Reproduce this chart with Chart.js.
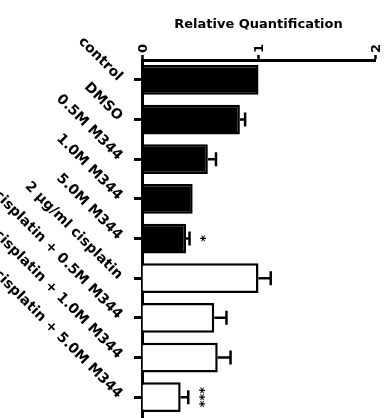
<!DOCTYPE html>
<html>
<head>
<meta charset="utf-8">
<script src="https://cdn.jsdelivr.net/npm/chart.js@4"></script>
<style>
  body { margin: 0; background: #fff; }
</style>
</head>
<body>
<canvas id="myChart" width="387" height="418"></canvas>
<script>
// Data
const labels = ['control', 'DMSO', '0.5M M344', '1.0M M344', '5.0M M344',
    '2 μg/ml cisplatin', 'cisplatin + 0.5M M344', 'cisplatin + 1.0M M344', 'cisplatin + 5.0M M344'];
const values = [1.0, 0.84, 0.565, 0.435, 0.378, 1.0, 0.62, 0.65, 0.332];
const errors = [0, 0.045, 0.07, 0, 0.03, 0.105, 0.105, 0.11, 0.065];
const stars = ['', '', '', '', '*', '', '', '', '***'];
const fills = ['#000', '#000', '#000', '#000', '#000', '#fff', '#fff', '#fff', '#fff'];
const xTicks = [0, 1, 2];

const FONT = '"DejaVu Sans"';
Chart.defaults.font.family = FONT;

// error bars, stars and slanted category labels
const extras = {
    id: 'extras',
    afterDatasetsDraw(chart) {
        const ctx = chart.ctx;
        const xs = chart.scales.x;
        const ys = chart.scales.y;
        const meta = chart.getDatasetMeta(0);
        ctx.save();
        ctx.strokeStyle = '#000';
        ctx.fillStyle = '#000';
        ctx.lineWidth = 2.5;
        meta.data.forEach((bar, i) => {
            const end = xs.getPixelForValue(values[i] + errors[i]);
            if (errors[i] > 0) {
                ctx.beginPath();
                ctx.moveTo(bar.x, bar.y);
                ctx.lineTo(end, bar.y);
                ctx.moveTo(end, bar.y - 7);
                ctx.lineTo(end, bar.y + 7);
                ctx.stroke();
            }
            if (stars[i]) {
                ctx.save();
                ctx.translate(end + 11, bar.y);
                ctx.rotate(Math.PI / 2);
                ctx.font = 'bold 13px ' + FONT;
                ctx.textAlign = 'center';
                ctx.textBaseline = 'middle';
                ctx.fillText(stars[i], 0, 0);
                ctx.restore();
            }
        });
        // category labels at 45 degrees
        ctx.font = 'bold 14px ' + FONT;
        ctx.textAlign = 'right';
        ctx.textBaseline = 'middle';
        labels.forEach((lab, i) => {
            const y = ys.getPixelForValue(i);
            ctx.save();
            ctx.translate(120, y - 1);
            ctx.rotate(Math.PI / 4);
            ctx.fillText(lab, 0, 0);
            ctx.restore();
        });
        ctx.restore();
    }
};

const ctx = document.getElementById('myChart').getContext('2d');
const chart = new Chart(ctx, {
    type: 'bar',
    data: {
        labels: labels,
        datasets: [{
            data: values,
            backgroundColor: fills,
            borderColor: '#000',
            borderWidth: 2.5,
            barPercentage: 0.75,
            categoryPercentage: 1
        }]
    },
    options: {
        indexAxis: 'y',
        responsive: false,
        animation: false,
        layout: { padding: { top: 0, right: 12, bottom: 1, left: 0 } },
        plugins: {
            legend: { display: false },
            tooltip: { enabled: false }
        },
        scales: {
            x: {
                position: 'top',
                min: 0,
                max: 2,
                afterBuildTicks: s => { s.ticks = xTicks.map(v => ({ value: v })); },
                afterFit: s => { s.height = 60; },
                border: { color: '#000', width: 3 },
                grid: { drawOnChartArea: false, color: '#000', tickLength: 5, tickWidth: 2.5 },
                ticks: {
                    color: '#000',
                    font: { size: 13, weight: 'bold' },
                    minRotation: 90,
                    maxRotation: 90,
                    labelOffset: 17,
                    padding: 2
                },
                title: {
                    display: true,
                    text: 'Relative Quantification',
                    color: '#000',
                    font: { size: 13, weight: 'bold' },
                    padding: { top: 17, bottom: 0 }
                }
            },
            y: {
                afterFit: s => { s.width = 142; },
                border: { color: '#000', width: 3 },
                grid: { drawOnChartArea: false, offset: false, color: '#000', tickLength: 8, tickWidth: 3 },
                ticks: { display: false }
            }
        }
    },
    plugins: [extras]
});
</script>
</body>
</html>
